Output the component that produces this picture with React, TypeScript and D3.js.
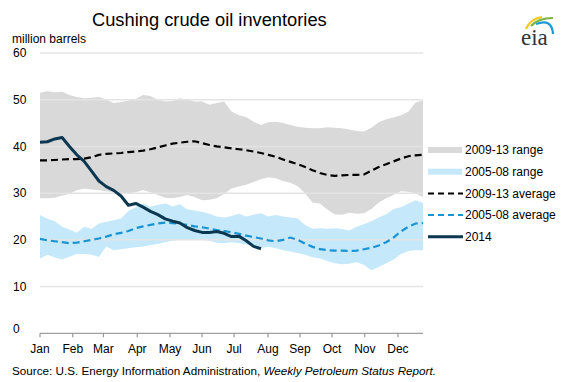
import React from "react";
import * as d3 from "d3";

// weekly index 0..52
const range0913Top = [51.5, 51.8, 51.6, 51.7, 51.0, 50.6, 50.3, 50.4, 50.6, 50.0, 49.3, 49.5, 49.8, 50.2, 51.0, 50.8, 50.0, 49.6, 49.7, 50.3, 50.0, 49.6, 49.6, 48.9, 49.3, 49.6, 47.5, 46.7, 46.3, 45.3, 44.6, 45.2, 45.3, 45.0, 44.6, 44.2, 44.0, 43.9, 43.9, 44.1, 44.0, 43.9, 43.6, 43.3, 43.2, 44.0, 45.2, 45.8, 46.2, 46.7, 47.4, 49.4, 49.9];
const range0913Bottom = [28.9, 28.9, 29.0, 29.5, 29.8, 30.6, 31.0, 30.8, 30.6, 30.4, 30.2, 30.0, 29.9, 30.2, 30.7, 30.2, 29.6, 29.0, 28.9, 29.2, 29.6, 29.2, 28.5, 28.6, 28.9, 29.8, 31.0, 31.4, 31.8, 32.4, 33.0, 33.4, 33.2, 32.6, 32.2, 31.5, 30.0, 28.0, 27.8, 26.5, 25.5, 25.4, 25.8, 25.6, 25.7, 26.6, 28.0, 28.9, 29.6, 30.4, 30.3, 29.9, 29.2];
const range0508Top = [25.3, 24.5, 24.0, 22.8, 22.2, 21.5, 22.8, 22.3, 23.5, 23.9, 24.2, 24.6, 26.2, 27.0, 27.8, 27.1, 27.5, 27.8, 27.2, 27.6, 26.5, 26.3, 26.0, 25.6, 25.0, 24.8, 25.1, 25.6, 25.0, 25.4, 25.7, 25.0, 25.3, 25.0, 24.8, 24.6, 23.2, 22.4, 22.5, 22.4, 22.5, 22.3, 22.0, 22.8, 23.4, 24.0, 24.8, 25.5, 26.6, 27.0, 27.8, 28.5, 27.9];
const range0508Bottom = [16.0, 16.8, 16.2, 15.8, 16.4, 17.0, 17.0, 16.8, 16.4, 18.6, 17.8, 18.0, 18.2, 18.4, 18.6, 18.9, 19.1, 19.5, 19.8, 20.0, 20.1, 20.1, 20.0, 19.8, 19.4, 19.3, 19.5, 19.3, 19.0, 18.7, 18.3, 18.5, 18.2, 17.8, 17.5, 17.2, 16.8, 16.3, 16.0, 15.5, 15.0, 14.8, 14.9, 15.2, 14.6, 13.5, 14.2, 15.0, 15.8, 17.0, 17.6, 17.8, 17.8];
const avg0913 = [37.0, 37.0, 37.1, 37.2, 37.3, 37.3, 37.4, 37.7, 38.2, 38.4, 38.5, 38.6, 38.8, 38.9, 39.1, 39.4, 39.8, 40.2, 40.6, 40.8, 41.0, 41.1, 40.7, 40.3, 40.0, 39.8, 39.6, 39.4, 39.2, 38.9, 38.6, 38.2, 37.8, 37.2, 36.7, 36.2, 35.6, 34.9, 34.3, 33.9, 33.7, 33.8, 33.9, 33.9, 34.0, 34.8, 35.6, 36.2, 36.8, 37.4, 37.9, 38.1, 38.2];
const avg0508 = [20.2, 19.9, 19.7, 19.5, 19.3, 19.4, 19.7, 20.0, 20.3, 20.7, 21.2, 21.5, 21.9, 22.5, 22.9, 23.2, 23.5, 23.7, 23.6, 23.4, 23.2, 22.9, 22.7, 22.4, 22.1, 21.9, 21.6, 21.3, 20.9, 20.6, 20.3, 19.9, 19.7, 20.0, 20.5, 20.0, 19.2, 18.5, 18.0, 17.8, 17.7, 17.7, 17.6, 17.7, 18.0, 18.3, 18.8, 19.5, 20.5, 21.8, 22.8, 23.5, 23.6];
const y2014 = [40.9, 41.0, 41.6, 41.9, 40.0, 38.2, 36.8, 34.7, 32.6, 31.4, 30.6, 29.4, 27.4, 27.8, 27.0, 26.1, 25.4, 24.5, 24.0, 23.6, 22.6, 22.0, 21.6, 21.6, 21.8, 21.4, 20.7, 20.8, 19.8, 18.6, 18.1];

const months = ["Jan", "Feb", "Mar", "Apr", "May", "Jun", "Jul", "Aug", "Sep", "Oct", "Nov", "Dec"];
const monthWeeks = [0, 4.45, 8.6, 13.2, 17.65, 22.0, 26.35, 30.95, 35.3, 39.65, 44.1, 48.6];
const yTicks = [0, 10, 20, 30, 40, 50, 60];

const legendItems = [
  { label: "2009-13 range", kind: "band", color: "#d9d9d9" },
  { label: "2005-08 range", kind: "band", color: "#c5e9fb" },
  { label: "2009-13 average", kind: "dash", color: "#000000" },
  { label: "2005-08 average", kind: "dash", color: "#1a93d2" },
  { label: "2014", kind: "line", color: "#0b3850" },
];

const FONT = "'Liberation Sans', Arial, sans-serif";

export default function App() {
  const W = 570, H = 382;
  const x = d3.scaleLinear().domain([0, 52]).range([40, 423]);
  const y = d3.scaleLinear().domain([0, 60]).range([333.3, 53]);

  const area = (top: number[], bot: number[]) =>
    d3.area<number>()
      .x((_, i) => x(i))
      .y0((_, i) => y(bot[i]))
      .y1((d) => y(d))(top) || "";
  const line = (vals: number[]) =>
    d3.line<number>().x((_, i) => x(i)).y((d) => y(d))(vals) || "";

  return (
    <svg width={W} height={H} style={{ position: "absolute", left: 0, top: 0, background: "#fff" }} fontFamily={FONT}>
      <rect width={W} height={H} fill="#fff" />
      <text x={92} y={26} fontSize={18.3} fill="#000">Cushing crude oil inventories</text>
      <text x={12} y={43} fontSize={12} fill="#000">million barrels</text>

      {/* eia logo */}
      <g>
        <path d="M526,29 Q530,19 542,17" fill="none" stroke="#f2c81a" strokeWidth={2.2} />
        <path d="M531,26 Q538,18 553,18" fill="none" stroke="#7ab642" strokeWidth={2.2} />
        <path d="M536,24 Q552,18 553,34" fill="none" stroke="#1c9ad6" strokeWidth={2.2} />
        <text x={521} y={45} fontSize={23} fontFamily="'Liberation Serif', 'DejaVu Serif', serif" fill="#333">eia</text>
      </g>

      <path d={area(range0913Top, range0913Bottom)} fill="#d9d9d9" />
      <path d={area(range0508Top, range0508Bottom)} fill="#c5e9fb" />

      {yTicks.filter((t) => t > 0).map((t) => (
        <line key={t} x1={x(0)} x2={x(52)} y1={y(t)} y2={y(t)} stroke="#e4e4e4" strokeWidth={1.5} />
      ))}
      {yTicks.map((t) => (
        <text key={t} x={13} y={t === 0 ? y(t) - 5 : y(t)} dy="0.35em" fontSize={12} fill="#000">{t}</text>
      ))}

      <line x1={x(0)} x2={x(52)} y1={y(0)} y2={y(0)} stroke="#878787" strokeWidth={1} />
      {monthWeeks.map((w, i) => (
        <g key={i}>
          <line x1={x(w)} x2={x(w)} y1={y(0)} y2={y(0) + 4} stroke="#878787" strokeWidth={1} />
          <text x={x(w)} y={353} textAnchor="middle" fontSize={12} fill="#000">{months[i]}</text>
        </g>
      ))}

      <path d={line(avg0913)} fill="none" stroke="#000" strokeWidth={2.2} strokeDasharray="7,4" />
      <path d={line(avg0508)} fill="none" stroke="#1a93d2" strokeWidth={2.2} strokeDasharray="7,4" />
      <path d={line(y2014)} fill="none" stroke="#0b3850" strokeWidth={3} strokeLinejoin="round" />

      {legendItems.map((it, i) => {
        const cy = 150 + i * 21.7;
        return (
          <g key={it.label}>
            {it.kind === "band" && <rect x={428} y={cy - 3} width={34} height={6} fill={it.color} />}
            {it.kind === "dash" && <line x1={428} x2={463} y1={cy} y2={cy} stroke={it.color} strokeWidth={2} strokeDasharray="6,4" />}
            {it.kind === "line" && <line x1={428} x2={463} y1={cy} y2={cy} stroke={it.color} strokeWidth={3} />}
            <text x={465} y={cy} dy="0.35em" fontSize={12} fill="#000">{it.label}</text>
          </g>
        );
      })}

      <text x={12} y={375} fontSize={11.7} fill="#000">
        Source:  U.S. Energy Information Administration, <tspan fontStyle="italic">Weekly Petroleum Status Report.</tspan>
      </text>
    </svg>
  );
}
